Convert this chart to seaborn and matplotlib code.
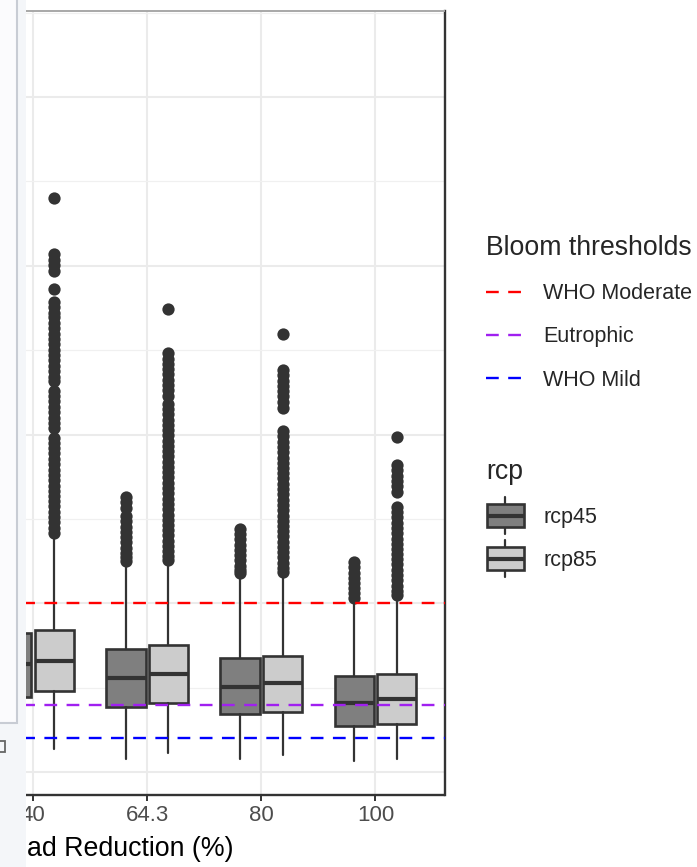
import numpy as np
import pandas as pd
import matplotlib
matplotlib.use("Agg")
import matplotlib.pyplot as plt
from matplotlib.lines import Line2D
from matplotlib.patches import Rectangle
from matplotlib.legend_handler import HandlerBase
import seaborn as sns

# ---------------------------------------------------------------- data
reductions = ["40", "64.3", "80", "100"]
scenarios = ["rcp45", "rcp85"]
fill_colors = ["#7f7f7f", "#cccccc"]

# box summaries (chlorophyll-a, ug/L) per load-reduction level
q1_rcp45 = [22.3, 19.4, 17.2, 13.6]
med_rcp45 = [31.9, 27.9, 25.3, 20.5]
q3_rcp45 = [41.1, 36.4, 33.9, 28.5]
lo_rcp45 = [5.0, 4.0, 3.9, 3.3]
hi_rcp45 = [68.0, 61.5, 58.0, 51.0]

q1_rcp85 = [24.0, 20.5, 17.9, 14.1]
med_rcp85 = [32.9, 29.2, 26.5, 21.5]
q3_rcp85 = [42.1, 37.6, 34.4, 29.2]
lo_rcp85 = [6.8, 5.5, 5.2, 4.0]
hi_rcp85 = [69.5, 62.0, 58.5, 51.5]

# outlying years
out_40_rcp45 = []
out_643_rcp45 = [81.4, 79.9, 78.3, 75.8, 74.3, 72.7, 71.2, 69.6, 68.1, 66.5,
                 65.0, 63.6, 62.4]
out_80_rcp45 = [72.1, 70.5, 69.0, 67.4, 65.9, 64.3, 62.8, 61.2, 59.9, 59.0]
out_100_rcp45 = [62.2, 60.7, 59.1, 57.6, 56.0, 54.5, 53.0, 51.6]

out_40_rcp85 = [170.0, 153.4, 151.8, 150.1, 148.5, 143.0, 139.4, 137.8, 136.1,
                134.7, 133.0, 131.5, 129.9, 128.2, 126.8, 125.1, 123.6, 122.0,
                120.3, 118.9, 117.2, 115.8, 112.9, 111.3, 109.8, 108.1, 106.6,
                105.0, 103.5, 101.9, 99.0, 97.6, 95.9, 94.4, 92.7, 91.2, 89.6,
                88.1, 86.5, 84.9, 83.4, 81.8, 80.2, 78.7, 77.1, 75.6, 74.0,
                72.4, 70.9]
out_643_rcp85 = [137.1, 124.1, 122.5, 120.9, 119.4, 117.8, 116.3, 114.6, 113.1,
                 111.5, 109.1, 107.6, 106.0, 104.4, 102.9, 101.3, 99.8, 98.2,
                 96.6, 95.1, 93.5, 92.0, 90.4, 88.8, 87.3, 85.7, 84.1, 82.6,
                 81.0, 79.5, 77.9, 76.3, 74.8, 73.2, 71.7, 70.1, 68.5, 67.0,
                 65.4, 63.9, 62.8]
out_80_rcp85 = [129.7, 119.1, 117.6, 116.0, 114.4, 112.9, 111.3, 109.6, 107.9,
                101.0, 99.5, 97.9, 96.3, 94.8, 93.2, 91.7, 90.1, 88.5, 87.0,
                85.4, 83.9, 82.3, 80.7, 79.2, 77.6, 76.0, 74.5, 72.9, 71.4,
                69.8, 68.2, 66.7, 65.1, 63.6, 62.0, 60.5, 59.3]
out_100_rcp85 = [99.2, 91.0, 89.4, 87.8, 86.3, 84.7, 83.1, 78.6, 77.0, 75.5,
                 73.9, 72.4, 70.8, 69.2, 67.7, 66.1, 64.6, 63.0, 61.5, 59.9,
                 58.3, 56.8, 55.2, 53.7, 52.4]

threshold_names = ["WHO Moderate", "Eutrophic", "WHO Mild"]
threshold_values = [50, 20, 10]
threshold_colors = ["#ff0000", "#a020f0", "#0000ff"]

x_title = "ad Reduction (%)"

# ---------------------------------------------------------------- style
sns.set_theme(style="white")
plt.rcParams["font.family"] = ["Liberation Sans", "DejaVu Sans"]

W, H, DPI = 697, 867, 100
fig = plt.figure(figsize=(W / DPI, H / DPI), dpi=DPI)
fig.patch.set_facecolor("white")


def px_rect(x0, y0, x1, y1):
    return [x0 / W, 1 - y1 / H, (x1 - x0) / W, (y1 - y0) / H]


ax = fig.add_axes(px_rect(0, 11, 444.5, 795))
ax.set_facecolor("white")

ink = "#333333"
dodge = {"rcp45": -0.186, "rcp85": 0.186}
box_width = 0.345
cat_pos = np.arange(len(reductions))

summaries = {
    "rcp45": (q1_rcp45, med_rcp45, q3_rcp45, lo_rcp45, hi_rcp45),
    "rcp85": (q1_rcp85, med_rcp85, q3_rcp85, lo_rcp85, hi_rcp85),
}
for scen, fc in zip(scenarios, fill_colors):
    q1, med, q3, lo, hi = summaries[scen]
    stats = [dict(q1=q1[i], med=med[i], q3=q3[i], whislo=lo[i], whishi=hi[i],
                  fliers=[]) for i in range(len(reductions))]
    ax.bxp(stats, positions=cat_pos + dodge[scen], widths=box_width,
           patch_artist=True, showcaps=False, showfliers=False,
           manage_ticks=False,
           boxprops=dict(facecolor=fc, edgecolor=ink, linewidth=1.9),
           whiskerprops=dict(color=ink, linewidth=1.6),
           medianprops=dict(color=ink, linewidth=3.0, solid_capstyle="butt"),
           zorder=3)

# outlier points, long form
outlier_sets = {
    ("40", "rcp45"): out_40_rcp45, ("64.3", "rcp45"): out_643_rcp45,
    ("80", "rcp45"): out_80_rcp45, ("100", "rcp45"): out_100_rcp45,
    ("40", "rcp85"): out_40_rcp85, ("64.3", "rcp85"): out_643_rcp85,
    ("80", "rcp85"): out_80_rcp85, ("100", "rcp85"): out_100_rcp85,
}
rows = []
for (red, scen), vals in outlier_sets.items():
    for v in vals:
        rows.append(dict(reduction=red, rcp=scen, value=v,
                         pos=reductions.index(red) + dodge[scen]))
outliers = pd.DataFrame(rows)
sns.scatterplot(data=outliers, x="pos", y="value", color=ink, s=78,
                linewidth=0, legend=False, ax=ax, zorder=3)

# bloom thresholds
dash = (0, (5.4, 4.0))
for v, c in zip(threshold_values, threshold_colors):
    ax.axhline(v, color=c, lw=1.7, linestyle=dash, zorder=4)

# ---------------------------------------------------------------- axes
ax.set_xlim(-33 / 114.2, 3.605)
ax.set_ylim(-6.8, 225.5)
ax.set_xticks(cat_pos)
ax.set_xticklabels(reductions)
ax.set_yticks([0, 50, 100, 150, 200])
ax.set_yticks([25, 75, 125, 175, 225], minor=True)
ax.set_xlabel("")
ax.set_ylabel("")
ax.grid(which="major", color="#ebebeb", lw=1.5, zorder=0)
ax.grid(which="minor", axis="y", color="#f0f0f0", lw=0.9, zorder=0)
ax.set_axisbelow(True)
ax.tick_params(axis="x", which="major", bottom=True, length=4.3, width=1.4,
               color=ink, labelsize=16, labelcolor="#4d4d4d", pad=3.2)
ax.tick_params(axis="y", which="both", left=False, labelleft=False)
for side in ("right", "bottom"):
    ax.spines[side].set_color(ink)
    ax.spines[side].set_linewidth(1.7)
ax.spines["top"].set_color("#a8a8a8")
ax.spines["top"].set_linewidth(1.4)
ax.spines["left"].set_visible(False)

fig.text(27 / W, 11 / H, x_title, ha="left", va="baseline",
         fontsize=19.3, color="black", zorder=12)

# ---------------------------------------------------------------- legends
leg_kw = dict(loc="upper left", bbox_transform=fig.transFigure,
              frameon=False, fontsize=15.5, title_fontsize=19.2,
              handlelength=1.68, handletextpad=0.98, labelspacing=1.03,
              borderpad=0, borderaxespad=0, alignment="left")

h_thr = [Line2D([], [], color=c, lw=1.7, linestyle=dash)
         for c in threshold_colors]
leg1 = ax.legend(h_thr, threshold_names, title="Bloom thresholds",
                 bbox_to_anchor=(486 / W, 1 - 235 / H), **leg_kw)
ax.add_artist(leg1)


class BoxGlyph(HandlerBase):
    def create_artists(self, legend, orig_handle, xdescent, ydescent,
                       width, height, fontsize, trans):
        x0 = -xdescent + 1
        w = width
        cx = x0 + w / 2
        cy = -ydescent + height / 2
        bh, stub = 16.8, 13.3
        rect = Rectangle((x0, cy - bh / 2), w, bh,
                         facecolor=orig_handle.get_facecolor(),
                         edgecolor=ink, lw=1.9, transform=trans)
        med = Line2D([x0, x0 + w], [cy, cy], color=ink, lw=3.0,
                     solid_capstyle="butt", transform=trans)
        up = Line2D([cx, cx], [cy + bh / 2, cy + stub], color=ink, lw=1.6,
                    transform=trans)
        dn = Line2D([cx, cx], [cy - bh / 2, cy - stub], color=ink, lw=1.6,
                    transform=trans)
        return [up, dn, rect, med]


h_rcp = [Rectangle((0, 0), 1, 1, facecolor=c) for c in fill_colors]
leg2 = ax.legend(h_rcp, scenarios, title="rcp",
                 handler_map={Rectangle: BoxGlyph()},
                 bbox_to_anchor=(486 / W, 1 - 459 / H), **leg_kw)

# ---------------------------------------------------------------- side pane
tf = fig.transFigure
fig.add_artist(Rectangle((0, 0), 26 / W, 1, transform=tf,
                         facecolor="#f4f6f9", edgecolor="none", zorder=10))
fig.add_artist(Rectangle((-4 / W, 1 - 723 / H), 20.5 / W, 723 / H + 0.01,
                         transform=tf, facecolor="#fbfbfd",
                         edgecolor="#c8ccd4", lw=1.5, zorder=11))
fig.add_artist(Rectangle((-3 / W, 1 - 752 / H), 8 / W, 11 / H, transform=tf,
                         facecolor="none", edgecolor="#666666", lw=1.3,
                         zorder=11))

fig.savefig("out.png", dpi=DPI)
